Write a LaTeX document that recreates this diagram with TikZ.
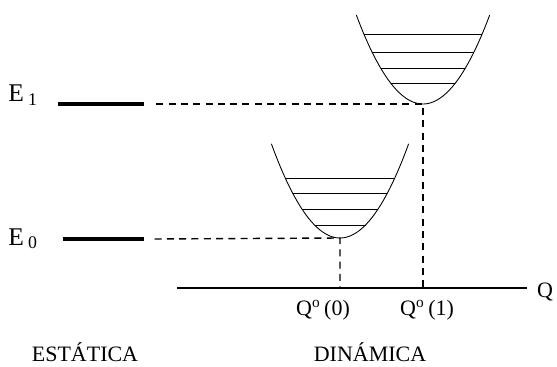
\documentclass[tikz,border=0pt]{standalone}
\usepackage{fontspec}
\setmainfont{Liberation Serif}
\usepackage{tikz}

\tikzset{
  levelbar/.style={line width=2.4pt},
  guide/.style={line width=0.8pt,dash pattern=on 4pt off 3pt},
  well/.style={line width=0.5pt},
  axisline/.style={line width=1pt},
  lbl/.style={font=\fontsize{12.5}{14}\selectfont,inner sep=0pt,anchor=base},
  elbl/.style={font=\fontsize{14.5}{16}\selectfont,inner sep=0pt,anchor=base west}
}

\begin{document}
\begin{tikzpicture}[x=0.2mm,y=-0.2mm]
\useasboundingbox (0,0) rectangle (557,366);
% static levels
\node[elbl] (E1) at (8,102) {E\,\textsubscript{1}};
\node[elbl] (E0) at (8,245) {E\,\textsubscript{0}};
\draw[levelbar] (58,104) coordinate (b1l) -- (144,104) coordinate (b1r);
\draw[levelbar] (63,239) coordinate (b0l) -- (144,239) coordinate (b0r);
% axis
\coordinate (axl) at (177,288);
\coordinate (axr) at (527,288);
\draw[axisline] (axl) -- (axr);
\node[lbl] (Q) at (545,297) {Q};
% wells
\coordinate (min1) at (423,104);
\coordinate (min0) at (340,238);
\draw[well] plot[domain=-66.7:66.7,samples=60] ({423+\x},{104-0.02*\x*\x});
\draw[well] plot[domain=-68.6:68.6,samples=60] ({340+\x},{238-0.02*\x*\x});
\foreach \d in {70,52,36,21}
  \draw[well] ({423-sqrt(\d/0.02)},{104-\d}) -- ({423+sqrt(\d/0.02)},{104-\d});
\foreach \d in {60,45,29,13}
  \draw[well] ({340-sqrt(\d/0.02)},{238-\d}) -- ({340+sqrt(\d/0.02)},{238-\d});
% dashed guides
\coordinate (foot1) at (423,288);
\coordinate (foot0) at (340,288);
\draw[guide] ([xshift=7pt]b1r) -- (min1) -- (foot1);
\draw[guide] ([xshift=6pt]b0r) -- (min0) -- (foot0);
\node[lbl] (q0) at (323,315) {Q\textsuperscript{o}\,(0)};
\node[lbl] (q1) at (427,315) {Q\textsuperscript{o}\,(1)};
\node[lbl] (est) at (85,361) {ESTÁTICA};
\node[lbl] (din) at (370,361) {DINÁMICA};
\end{tikzpicture}
\end{document}
